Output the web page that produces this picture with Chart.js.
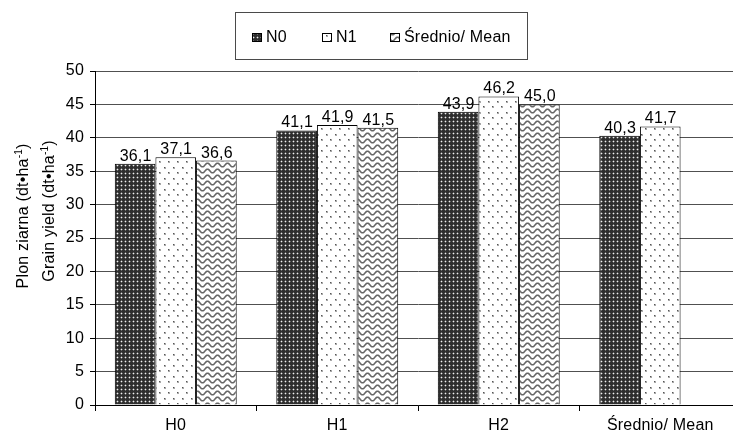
<!DOCTYPE html>
<html><head><meta charset="utf-8">
<script src="https://cdn.jsdelivr.net/npm/chart.js@4/dist/chart.umd.min.js"></script>
<style>
html,body{margin:0;padding:0;background:#fff;overflow:hidden;width:733px;height:439px;}
canvas{display:block;}
</style></head><body>
<canvas id="c" width="745" height="439"></canvas>
<script>
// ---- data ----
const categories = ['H0', 'H1', 'H2', 'Średnio/ Mean'];
const seriesNames = ['N0', 'N1', 'Średnio/ Mean'];
const n0Values = [36.1, 41.1, 43.9, 40.3];
const n1Values = [37.1, 41.9, 46.2, 41.7];
const meanValues = [36.6, 41.5, 45.0, null];
const yMin = 0, yMax = 50, yStep = 5;
const yTitleLine1 = ['Plon ziarna (dt•ha', '-1', ')'];
const yTitleLine2 = ['Grain yield (dt•ha', '-1', ')'];

const FONT = '"Liberation Sans", Arial, sans-serif';
const FSIZE = 16;
const SPACING = '0.2px';

function makeTile(w, h, draw) {
  const c = document.createElement('canvas');
  c.width = w; c.height = h;
  draw(c.getContext('2d'), w, h);
  return c;
}
const tileN0 = makeTile(4, 4, (g, w, h) => {
  g.fillStyle = '#2e2e2e'; g.fillRect(0, 0, w, h);
  g.fillStyle = '#6a6a6a';
  g.fillRect(0, 1, 1, 1); g.fillRect(2, 1, 1, 1); g.fillRect(1, 0, 1, 1); g.fillRect(1, 2, 1, 1);
  g.fillStyle = '#f0f0f0'; g.fillRect(1, 1, 1, 1);
});
const tileN1 = makeTile(9, 11, (g, w, h) => {
  g.fillStyle = '#ffffff'; g.fillRect(0, 0, w, h);
  g.fillStyle = '#a8a8a8'; g.fillRect(2, 2, 2, 2); g.fillRect(6, 7, 2, 2);
  g.fillStyle = '#555555'; g.fillRect(2, 2, 1, 1); g.fillRect(6, 7, 1, 1);
});
const tileMean = makeTile(10, 6, (g, w, h) => {
  g.fillStyle = '#ffffff'; g.fillRect(0, 0, w, h);
  g.strokeStyle = '#666666'; g.lineWidth = 1.6;
  g.beginPath();
  for (let x = -1; x <= w + 1; x += 0.5) {
    const y = 3 + 1.8 * Math.sin((x / w) * 2 * Math.PI);
    if (x === -1) g.moveTo(x, y); else g.lineTo(x, y);
  }
  g.stroke();
});
const ctx = document.getElementById('c').getContext('2d');
const patN0 = ctx.createPattern(tileN0, 'repeat');
const patN1 = ctx.createPattern(tileN1, 'repeat');
const patMean = ctx.createPattern(tileMean, 'repeat');
const patterns = [patN0, patN1, patMean];

function fmt(v) { return v.toFixed(1).replace('.', ','); }

const spacingPlugin = {
  id: 'spacing',
  beforeUpdate(chart) { chart.ctx.letterSpacing = SPACING; },
  beforeDraw(chart) { chart.ctx.letterSpacing = SPACING; }
};

const labelsPlugin = {
  id: 'barLabels',
  afterDatasetsDraw(chart) {
    const c = chart.ctx;
    c.save();
    c.letterSpacing = SPACING;
    c.font = FSIZE + 'px ' + FONT;
    c.fillStyle = '#000';
    c.textAlign = 'center';
    c.textBaseline = 'alphabetic';
    chart.data.datasets.forEach((ds, i) => {
      const meta = chart.getDatasetMeta(i);
      meta.data.forEach((bar, j) => {
        const v = ds.data[j];
        if (v === null || v === undefined) return;
        c.fillText(fmt(v), bar.x + 0.5, bar.y - 3);
      });
    });
    c.restore();
  }
};

function drawRotatedTitle(c, parts, baseX, centerY) {
  c.save();
  c.letterSpacing = SPACING;
  const main = FSIZE + 'px ' + FONT, sup = '10px ' + FONT;
  c.font = main; const w0 = c.measureText(parts[0]).width;
  c.font = sup; const w1 = c.measureText(parts[1]).width;
  c.font = main; const w2 = c.measureText(parts[2]).width;
  const total = w0 + w1 + w2;
  c.translate(baseX, centerY);
  c.rotate(-Math.PI / 2);
  c.fillStyle = '#000';
  c.textAlign = 'left';
  c.textBaseline = 'alphabetic';
  let x = -total / 2;
  c.font = main; c.fillText(parts[0], x, 0); x += w0;
  c.font = sup; c.fillText(parts[1], x, -6); x += w1;
  c.font = main; c.fillText(parts[2], x, 0);
  c.restore();
}

const decorPlugin = {
  id: 'decor',
  afterDraw(chart) {
    const c = chart.ctx;
    // y-axis title (two lines)
    drawRotatedTitle(c, yTitleLine1, 28, 216);
    drawRotatedTitle(c, yTitleLine2, 54, 211);
    // legend
    c.save();
    c.strokeStyle = '#4a4a4a'; c.lineWidth = 1;
    c.strokeRect(235.5, 12.5, 292, 47);
    const iconX = [252, 322, 390];
    const textX = [266, 336, 404];
    c.font = FSIZE + 'px ' + FONT;
    c.letterSpacing = SPACING;
    c.textBaseline = 'alphabetic';
    c.textAlign = 'left';
    seriesNames.forEach((name, i) => {
      c.fillStyle = patterns[i];
      c.fillRect(iconX[i], 33, 10, 9);
      c.strokeStyle = '#000'; c.lineWidth = 1;
      c.strokeRect(iconX[i] + 0.5, 33.5, 9, 8);
      c.fillStyle = '#000';
      c.fillText(name, textX[i], 42);
    });
    c.restore();
  }
};

const datasetValues = [n0Values, n1Values, meanValues];
new Chart(ctx, {
  type: 'bar',
  data: {
    labels: categories,
    datasets: seriesNames.map((name, i) => ({
      label: name,
      data: datasetValues[i],
      backgroundColor: patterns[i],
      borderColor: '#000',
      borderWidth: 1,
      borderSkipped: 'bottom',
      categoryPercentage: 0.755,
      barPercentage: 1.0
    }))
  },
  options: {
    responsive: false,
    animation: false,
    devicePixelRatio: 1,
    layout: { padding: { top: 71, right: 4, bottom: 0, left: 0 } },
    plugins: { legend: { display: false }, tooltip: { enabled: false } },
    scales: {
      x: {
        grid: { offset: true, drawOnChartArea: false, drawTicks: true, tickLength: 6, color: '#000', tickColor: '#000' },
        border: { color: '#000', width: 1 },
        ticks: { font: { family: FONT, size: FSIZE }, color: '#000', padding: 5, maxRotation: 0, autoSkip: false },
        afterFit(s) { s.height = 34; }
      },
      y: {
        min: yMin, max: yMax,
        grid: { color: '#505050', tickColor: '#000', tickLength: 5, lineWidth: 1 },
        border: { color: '#000', width: 1 },
        ticks: { stepSize: yStep, font: { family: FONT, size: FSIZE }, color: '#000', padding: 6 },
        afterFit(s) { s.width = 95; }
      }
    }
  },
  plugins: [spacingPlugin, labelsPlugin, decorPlugin]
});
</script>
</body></html>
